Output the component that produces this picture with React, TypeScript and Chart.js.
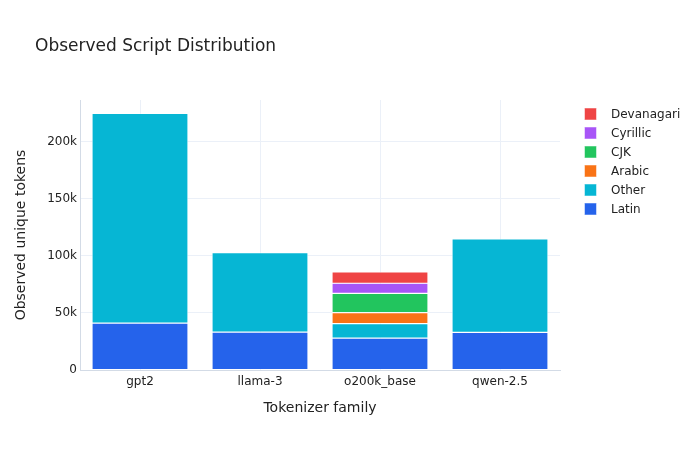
import React, { useEffect, useRef } from "react";
import { Chart, registerables } from "chart.js";

Chart.register(...registerables);

const categories = ["gpt2", "llama-3", "o200k_base", "qwen-2.5"];
const seriesNames = ["Latin", "Other", "Arabic", "CJK", "Cyrillic", "Devanagari"];
const latin = [41200, 33300, 28000, 33000];
const other = [183800, 69700, 12600, 82000];
const arabic = [0, 0, 9700, 0];
const cjk = [0, 0, 17000, 0];
const cyrillic = [0, 0, 8800, 0];
const devanagari = [0, 0, 10000, 0];
const seriesColors = ["#2563eb", "#06b6d4", "#f97316", "#22c55e", "#a855f7", "#ef4444"];
const yTickValues = [0, 50000, 100000, 150000, 200000];
const yMax = 236842;

const FONT = "'DejaVu Sans', Verdana, sans-serif";
const TEXT = "#222222";

const titlePlugin = {
  id: "plotTitle",
  afterDraw(chart: any) {
    const ctx = chart.ctx;
    ctx.save();
    ctx.font = `17px ${FONT}`;
    ctx.fillStyle = TEXT;
    ctx.textAlign = "left";
    ctx.textBaseline = "alphabetic";
    ctx.fillText("Observed Script Distribution", 35, 50.5);
    ctx.restore();
  },
};

const legendPlugin = {
  id: "sideLegend",
  afterDraw(chart: any) {
    const ctx = chart.ctx;
    const ds = chart.data.datasets;
    ctx.save();
    ctx.font = `12px ${FONT}`;
    ctx.textBaseline = "middle";
    ctx.textAlign = "left";
    const n = ds.length;
    for (let i = 0; i < n; i++) {
      const d = ds[n - 1 - i];
      const cy = 114 + i * 19;
      ctx.fillStyle = d.backgroundColor;
      ctx.fillRect(584.5, cy - 6, 12, 12);
      ctx.strokeStyle = "rgba(255,255,255,0.5)";
      ctx.lineWidth = 1;
      ctx.strokeRect(584.5, cy - 6, 12, 12);
      ctx.fillStyle = TEXT;
      ctx.fillText(d.label, 611, cy + 0.5);
    }
    ctx.restore();
  },
};

export default function App() {
  const ref = useRef<HTMLCanvasElement | null>(null);

  useEffect(() => {
    document.body.style.margin = "0";
    const allSeries = [latin, other, arabic, cjk, cyrillic, devanagari];
    const chart = new Chart(ref.current as HTMLCanvasElement, {
      type: "bar",
      data: {
        labels: categories,
        datasets: allSeries.map((values, i) => ({
          label: seriesNames[i],
          data: values,
          backgroundColor: seriesColors[i],
          borderColor: "#ffffff",
          borderWidth: 0.6,
          borderSkipped: false,
          categoryPercentage: 1,
          barPercentage: 0.8,
        })),
      },
      options: {
        responsive: false,
        animation: false,
        layout: { padding: { left: 0, right: 140, top: 100, bottom: 0 } },
        plugins: {
          legend: { display: false },
          title: { display: false },
          tooltip: { enabled: false },
        },
        scales: {
          x: {
            stacked: true,
            grid: { color: "#ebf0f8", drawTicks: false, offset: false },
            border: { color: "#d3dbe6", width: 1 },
            ticks: { color: TEXT, font: { family: FONT, size: 12 }, padding: 5 },
            title: {
              display: true,
              text: "Tokenizer family",
              color: TEXT,
              font: { family: FONT, size: 14 },
              padding: { top: 0, bottom: 33.6 },
            },
            afterFit(scale: any) {
              scale.height = 80;
            },
          },
          y: {
            stacked: true,
            min: 0,
            max: yMax,
            grid: { color: "#ebf0f8", drawTicks: false },
            border: { color: "#d3dbe6", width: 1 },
            ticks: {
              color: TEXT,
              font: { family: FONT, size: 12 },
              padding: 3,
              callback: (v: any) => (v === 0 ? "0" : `${Math.round(v / 1000)}k`),
            },
            afterBuildTicks(scale: any) {
              scale.ticks = yTickValues.map((value) => ({ value }));
            },
            title: {
              display: true,
              text: "Observed unique tokens",
              color: TEXT,
              font: { family: FONT, size: 14 },
              padding: { top: 12.6, bottom: 0 },
            },
            afterFit(scale: any) {
              scale.width = 80;
            },
          },
        },
      },
      plugins: [titlePlugin, legendPlugin],
    });
    return () => chart.destroy();
  }, []);

  return (
    <div style={{ position: "fixed", left: 0, top: 0, width: 700, height: 450, background: "#fff" }}>
      <canvas ref={ref} width={700} height={450} />
    </div>
  );
}
